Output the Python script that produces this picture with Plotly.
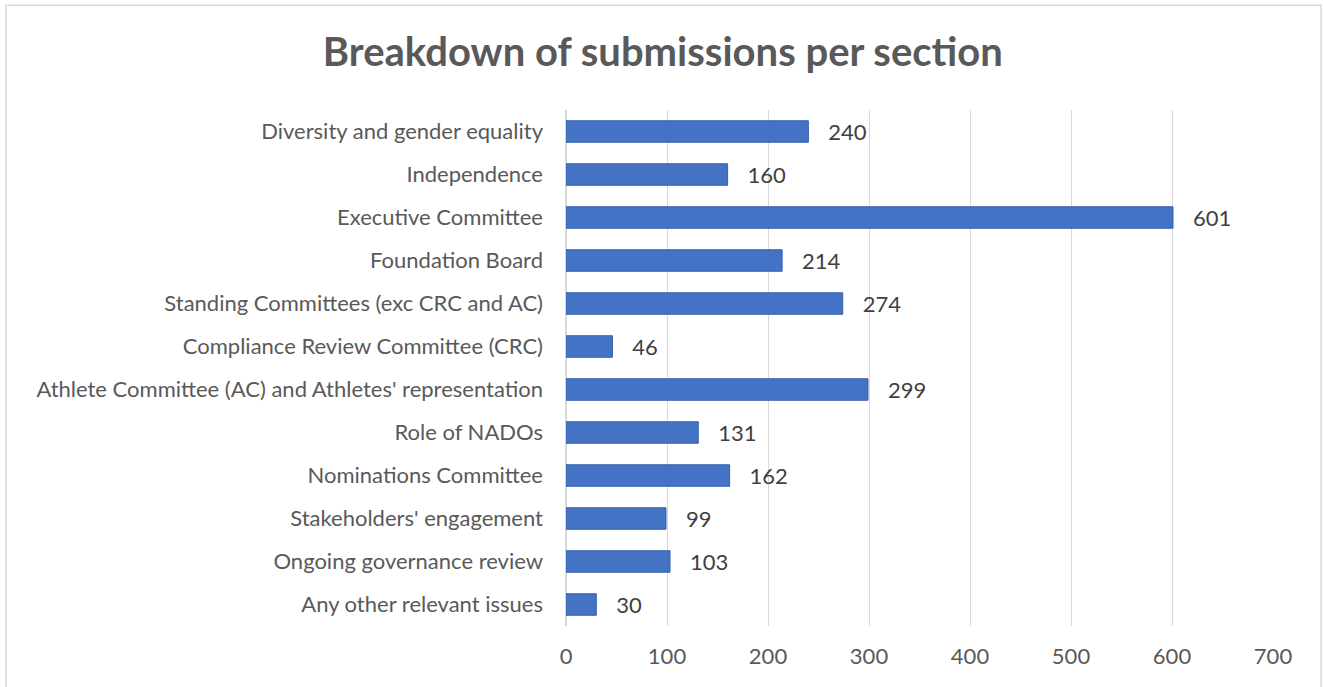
import plotly.graph_objects as go

categories = [
    "Diversity and gender equality",
    "Independence",
    "Executive Committee",
    "Foundation Board",
    "Standing Committees (exc CRC and AC)",
    "Compliance Review Committee (CRC)",
    "Athlete Committee (AC) and Athletes' representation",
    "Role of NADOs",
    "Nominations Committee",
    "Stakeholders' engagement",
    "Ongoing governance review",
    "Any other relevant issues",
]
values = [240, 160, 601, 214, 274, 46, 299, 131, 162, 99, 103, 30]
tick_vals = [0, 100, 200, 300, 400, 500, 600, 700]

FONT = "Lato, Open Sans, sans-serif"

fig = go.Figure()
fig.add_trace(go.Bar(
    y=categories, x=values, orientation="h",
    width=0.5,
    marker=dict(color="#4472C4", line=dict(color="#3a62ab", width=1)),
    text=[f"\u00a0\u00a0\u00a0{v}" for v in values],
    textposition="outside",
    constraintext="none",
    textfont=dict(family=FONT, size=22, color="#404040"),
    cliponaxis=False,
))

fig.update_layout(
    width=1323, height=687,
    margin=dict(l=566, r=50, t=110, b=61),
    paper_bgcolor="white", plot_bgcolor="white",
    showlegend=False,
    title=dict(text="<b>Breakdown of submissions per section</b>",
               xref="container", x=0.501, xanchor="center",
               yref="container", y=0.925, yanchor="middle",
               font=dict(family=FONT, size=40, color="#595959")),
    xaxis=dict(range=[0, 700], tickvals=tick_vals, showgrid=True,
               gridcolor="#d9d9d9", gridwidth=1, zeroline=True,
               zerolinecolor="#d9d9d9", showline=False, ticks="",
               ticklabelstandoff=15,
               tickfont=dict(family=FONT, size=22, color="#595959")),
    yaxis=dict(autorange="reversed", showgrid=False, ticks="",
               ticklabelstandoff=22,
               tickfont=dict(family=FONT, size=22, color="#595959")),
    shapes=[dict(type="rect", xref="paper", yref="paper",
                 x0=-0.792, x1=1.068, y0=-0.25, y1=1.203,
                 line=dict(color="#d9d9d9", width=1.5))],
)
fig.write_html("out.html")
